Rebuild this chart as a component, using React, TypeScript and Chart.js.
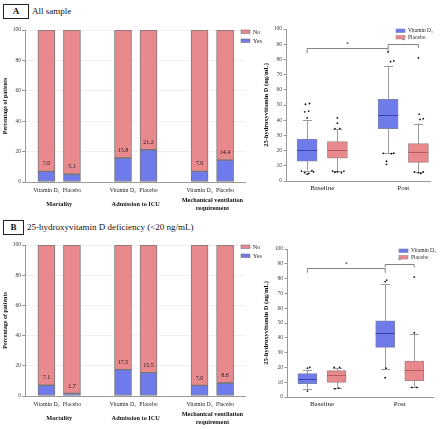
import React, { useEffect, useRef } from "react";
import { Chart, registerables } from "chart.js";
Chart.register(...registerables);

const FONT = "'Liberation Serif', 'Times New Roman', serif";
const RED = "#E8898D";
const BLUE = "#6F7BEA";

// ---------- bar chart data ----------
const barTickLabels = ["Vitamin D₃", "Placebo", "Vitamin D₃", "Placebo", "Vitamin D₃", "Placebo"];
const barPositions = [0, 1, 3, 4, 6, 7];
const groupLabels: (string | string[])[] = ["Mortality", "Admission to ICU", ["Mechanical ventilation", "requirement"]];
const groupPositions = [0.5, 3.5, 6.5];
const yesA = [7.0, 5.1, 15.8, 21.2, 7.0, 14.4];
const noA = [93.0, 94.9, 84.2, 78.8, 93.0, 85.6];
const yesB = [7.1, 1.7, 17.5, 15.5, 7.0, 8.6];
const noB = [92.9, 98.3, 82.5, 84.5, 93.0, 91.4];
const yTicksPct = [0, 20, 40, 60, 80, 100];

// ---------- box plot data ----------
const boxCategories = ["Baseline", "Post"];
const boxSeries = ["Vitamin D₃", "Placebo"];
// [lower whisker, Q1, median, Q3, upper whisker] for Baseline, Post
const boxA_vit = [[6.8, 13, 20.4, 27.5, 40], [18.2, 34.5, 43.3, 53.8, 75.8]];
const boxA_pla = [[6.6, 15, 20.7, 26, 34.3], [6.2, 12.3, 19.3, 24.6, 37.8]];
const boxB_vit = [[5.6, 9, 12.4, 15.8, 18.3], [19.2, 33.5, 43, 51.5, 76.3]];
const boxB_pla = [[6.1, 9.9, 14.7, 17.8, 19.6], [6.5, 10.8, 18.2, 24.3, 42.6]];
// outliers: [value, small horizontal jitter]
const outA_vit = [
  [[6.5, -0.07], [6.8, 0.06], [5.5, -0.03], [5, 0.02], [4.5, 0], [6, 0.08], [41.5, 0], [45.5, -0.03], [46, 0.02], [50.5, -0.02], [51, 0.03]],
  [[18.2, -0.06], [18, 0.04], [18.3, 0.07], [13, -0.02], [11, -0.02], [78.5, 0.03], [79, 0.07], [85, 0]],
];
const outA_pla = [
  [[6.5, -0.06], [6, 0], [5.5, 0.05], [6.5, 0.08], [5.8, -0.03], [34.5, -0.03], [34.5, 0.03], [38, 0], [41.5, 0]],
  [[6, -0.05], [5.5, 0], [6, 0.06], [5, 0.03], [40.5, 0.02], [41, 0.06], [44, 0.01], [81, 0]],
];
const outB_vit = [
  [[19.5, 0], [20, 0.03], [4, 0]],
  [[78, 0], [79, 0.02], [19.5, 0.01], [13, 0]],
];
const outB_pla = [
  [[20, -0.03], [20, 0.04], [5.5, -0.02], [6, 0.03]],
  [[43.4, 0], [81, 0], [6.5, -0.03], [6.5, 0.03]],
];
// brackets: [fromCategory, fromSeries, toCategory, toSeries, level, drop]
const bracketsA = [[0, 0, 1, 0, 87.3, 3.3], [1, 0, 1, 1, 90, 2.5]];
const bracketsB = [[0, 0, 1, 0, 87.4, 3.4], [1, 0, 1, 1, 89.6, 2.0]];
const yTicksBox = [0, 10, 20, 30, 40, 50, 60, 70, 80, 90, 100];

// ---------- plugins ----------
const barExtras = {
  id: "barExtras",
  afterDatasetsDraw(chart: any) {
    const { ctx, chartArea } = chart;
    const meta = chart.getDatasetMeta(0);
    ctx.save();
    ctx.font = `6px ${FONT}`;
    ctx.fillStyle = "#222";
    ctx.textAlign = "center";
    ctx.textBaseline = "middle";
    meta.data.forEach((el: any, i: number) => {
      const v = chart.data.datasets[0].data[i].y;
      ctx.fillText(v.toFixed(1), el.x, el.y - 7.5);
    });
    // legend No / Yes
    const items = [chart.data.datasets[1], chart.data.datasets[0]];
    items.forEach((ds: any, i: number) => {
      const y0 = chartArea.top + i * 9;
      ctx.fillStyle = ds.backgroundColor;
      ctx.fillRect(chartArea.right - 4, y0, 9, 3.5);
      ctx.strokeStyle = "#777";
      ctx.lineWidth = 0.6;
      ctx.strokeRect(chartArea.right - 4, y0, 9, 3.5);
      ctx.fillStyle = "#222";
      ctx.textAlign = "left";
      ctx.font = `6px ${FONT}`;
      ctx.fillText(ds.label, chartArea.right + 8, y0 + 2);
    });
    ctx.restore();
  },
};

const boxExtras = {
  id: "boxExtras",
  beforeDatasetsDraw(chart: any, _a: any, opts: any) {
    const { ctx, scales } = chart;
    const y = scales.y;
    ctx.save();
    ctx.strokeStyle = "#9a9a9a";
    ctx.lineWidth = 1;
    opts.stats.forEach((series: number[][], s: number) => {
      const meta = chart.getDatasetMeta(s);
      series.forEach((st: number[], g: number) => {
        const x = Math.round(meta.data[g].x) + 0.5;
        const pLo = y.getPixelForValue(st[0]);
        const pHi = y.getPixelForValue(st[4]);
        ctx.beginPath();
        ctx.moveTo(x, pLo);
        ctx.lineTo(x, pHi);
        ctx.moveTo(x - 4.5, Math.round(pLo) + 0.5);
        ctx.lineTo(x + 4.5, Math.round(pLo) + 0.5);
        ctx.moveTo(x - 4.5, Math.round(pHi) + 0.5);
        ctx.lineTo(x + 4.5, Math.round(pHi) + 0.5);
        ctx.stroke();
      });
    });
    ctx.restore();
  },
  afterDatasetsDraw(chart: any, _a: any, opts: any) {
    const { ctx, scales, chartArea } = chart;
    const y = scales.y;
    ctx.save();
    // medians
    opts.stats.forEach((series: number[][], s: number) => {
      const meta = chart.getDatasetMeta(s);
      ctx.strokeStyle = opts.medianColors[s];
      ctx.lineWidth = 1;
      series.forEach((st: number[], g: number) => {
        const el = meta.data[g];
        const half = el.width / 2;
        const py = Math.round(y.getPixelForValue(st[2])) + 0.5;
        ctx.beginPath();
        ctx.moveTo(el.x - half, py);
        ctx.lineTo(el.x + half, py);
        ctx.stroke();
      });
    });
    // brackets
    ctx.strokeStyle = "#666";
    ctx.lineWidth = 0.8;
    ctx.fillStyle = "#222";
    ctx.font = `6px ${FONT}`;
    ctx.textAlign = "center";
    ctx.textBaseline = "middle";
    opts.brackets.forEach((b: number[]) => {
      const x1 = chart.getDatasetMeta(b[1]).data[b[0]].x;
      const x2 = chart.getDatasetMeta(b[3]).data[b[2]].x;
      const py = Math.round(y.getPixelForValue(b[4])) + 0.5;
      const pd = y.getPixelForValue(b[4] - b[5]);
      ctx.beginPath();
      ctx.moveTo(x1, pd);
      ctx.lineTo(x1, py);
      ctx.lineTo(x2, py);
      ctx.lineTo(x2, pd);
      ctx.stroke();
      ctx.fillText("*", (x1 + x2) / 2, py - 4);
    });
    // legend
    const lx = chartArea.right - 34;
    boxSeries.forEach((name, i) => {
      const y0 = chartArea.top + i * 6.5;
      const ds = chart.data.datasets[i];
      ctx.fillStyle = ds.backgroundColor;
      ctx.fillRect(lx, y0, 9, 3.5);
      ctx.strokeStyle = ds.borderColor;
      ctx.lineWidth = 0.6;
      ctx.strokeRect(lx, y0, 9, 3.5);
      ctx.fillStyle = "#222";
      ctx.textAlign = "left";
      ctx.font = `5.5px ${FONT}`;
      ctx.fillText(name, lx + 12, y0 + 2);
    });
    ctx.restore();
  },
};

function makeBarConfig(yes: number[], no: number[]) {
  const tickFont = { family: FONT, size: 5.5 };
  return {
    type: "bar",
    data: {
      datasets: [
        {
          label: "Yes",
          data: barPositions.map((x, i) => ({ x, y: yes[i] })),
          backgroundColor: BLUE,
          borderColor: "#777",
          borderWidth: 1,
          borderSkipped: false,
          barThickness: 17,
        },
        {
          label: "No",
          data: barPositions.map((x, i) => ({ x, y: no[i] })),
          backgroundColor: RED,
          borderColor: "#777",
          borderWidth: 1,
          borderSkipped: false,
          barThickness: 17,
        },
      ],
    },
    options: {
      animation: false,
      responsive: false,
      maintainAspectRatio: false,
      events: [],
      layout: { padding: { top: 30, right: 20, left: 0, bottom: 0 } },
      plugins: { legend: { display: false }, tooltip: { enabled: false } },
      scales: {
        x: {
          type: "linear",
          stacked: true,
          offset: false,
          min: -0.84,
          max: 7.78,
          weight: 0,
          grid: { display: false, drawTicks: false, offset: false },
          border: { color: "#999", width: 1 },
          afterBuildTicks: (s: any) => { s.ticks = barPositions.map((v) => ({ value: v })); },
          afterFit: (s: any) => { s.height = 14; },
          ticks: {
            autoSkip: false,
            maxRotation: 0,
            padding: 5,
            color: "#222",
            font: { family: FONT, size: 5.8 },
            callback: (v: number) => barTickLabels[barPositions.indexOf(v)],
          },
        },
        xg: {
          type: "linear",
          position: "bottom",
          offset: false,
          min: -0.84,
          max: 7.78,
          weight: 1,
          grid: { display: false, drawTicks: false, offset: false },
          border: { display: false },
          afterBuildTicks: (s: any) => { s.ticks = groupPositions.map((v) => ({ value: v })); },
          afterFit: (s: any) => { s.height = 19; },
          ticks: {
            autoSkip: false,
            maxRotation: 0,
            padding: 4,
            crossAlign: "center",
            color: "#111",
            font: { family: FONT, size: 6.3, weight: "bold", lineHeight: 1.4 },
            callback: (v: number) => groupLabels[groupPositions.indexOf(v)],
          },
        },
        y: {
          stacked: true,
          min: 0,
          max: 100,
          afterBuildTicks: (s: any) => { s.ticks = yTicksPct.map((v) => ({ value: v })); },
          afterFit: (s: any) => { s.width = 25; },
          grid: { color: "rgba(0,0,0,0.06)", tickLength: 3, tickColor: "#999" },
          border: { color: "#999", width: 1 },
          ticks: { color: "#444", font: tickFont, padding: 1 },
          title: {
            display: true,
            text: "Percentage of patients",
            color: "#111",
            font: { family: FONT, size: 6, weight: "bold" },
            padding: { top: 2, bottom: 0 },
          },
        },
      },
    },
    plugins: [barExtras],
  };
}

function makeBoxConfig(
  vit: number[][], pla: number[][], outVit: number[][][], outPla: number[][][],
  brackets: number[][], xmin: number, xmax: number, pad: any, thickness: number
) {
  const off = 0.187;
  const centers = [1, 2];
  const scatterData: any[] = [];
  [outVit, outPla].forEach((series, s) => {
    series.forEach((pts, g) => {
      pts.forEach(([v, dx]) => {
        scatterData.push({ x: centers[g] + (s === 0 ? -off : off) + dx, y: v });
      });
    });
  });
  return {
    type: "bar",
    data: {
      datasets: [
        {
          type: "bar",
          label: boxSeries[0],
          data: vit.map((st, g) => ({ x: centers[g] - off, y: [st[1], st[3]] })),
          backgroundColor: BLUE,
          borderColor: "#7d82b0",
          borderWidth: 1,
          borderSkipped: false,
          barThickness: thickness,
        },
        {
          type: "bar",
          label: boxSeries[1],
          data: pla.map((st, g) => ({ x: centers[g] + off, y: [st[1], st[3]] })),
          backgroundColor: RED,
          borderColor: "#a88384",
          borderWidth: 1,
          borderSkipped: false,
          barThickness: thickness,
        },
        {
          type: "scatter",
          label: "outliers",
          data: scatterData,
          pointRadius: 0.9,
          pointBackgroundColor: "#111",
          pointBorderWidth: 0,
        },
      ],
    },
    options: {
      animation: false,
      responsive: false,
      maintainAspectRatio: false,
      events: [],
      layout: { padding: { top: pad.top, right: pad.right, left: pad.left, bottom: pad.bottom } },
      plugins: {
        legend: { display: false },
        tooltip: { enabled: false },
        boxExtras: { stats: [vit, pla], medianColors: ["#3a45a8", "#b55c62"], brackets },
      },
      scales: {
        x: {
          type: "linear",
          stacked: true,
          offset: false,
          min: xmin,
          max: xmax,
          grid: { display: false, drawTicks: false, offset: false },
          border: { color: "#999", width: 1 },
          afterBuildTicks: (s: any) => { s.ticks = centers.map((v) => ({ value: v })); },
          afterFit: (s: any) => { s.height = 14; },
          ticks: {
            autoSkip: false,
            maxRotation: 0,
            padding: 3,
            color: "#222",
            font: { family: FONT, size: 7 },
            callback: (v: number) => boxCategories[centers.indexOf(v)],
          },
        },
        y: {
          min: 0,
          max: 100,
          afterBuildTicks: (s: any) => { s.ticks = yTicksBox.map((v) => ({ value: v })); },
          afterFit: (s: any) => { s.width = pad.axisW; },
          grid: { drawOnChartArea: false, tickLength: 2.5, color: "#999" },
          border: { color: "#999", width: 1 },
          ticks: { color: "#444", font: { family: FONT, size: 5.5 }, padding: 1.5 },
          title: {
            display: true,
            text: "25-hydroxyvitamin D (ng/mL)",
            color: "#111",
            font: { family: FONT, size: 6.5, weight: "bold" },
            padding: { top: 4, bottom: 0 },
          },
        },
      },
    },
    plugins: [boxExtras],
  };
}

function ChartCanvas({ config, left, top, width, height }: any) {
  const ref = useRef<HTMLCanvasElement | null>(null);
  useEffect(() => {
    if (!ref.current) return;
    const chart = new Chart(ref.current, config);
    return () => chart.destroy();
  }, []);
  return (
    <canvas
      ref={ref}
      width={width}
      height={height}
      style={{ position: "absolute", left, top, width, height }}
    />
  );
}

function Header({ letter, text, top, boxW }: any) {
  return (
    <div style={{ position: "absolute", left: 3, top, height: 16, display: "flex", alignItems: "center", fontFamily: FONT }}>
      <div
        style={{
          width: boxW,
          height: 15,
          border: "1px solid #222",
          boxSizing: "border-box",
          display: "flex",
          alignItems: "center",
          justifyContent: "center",
          fontWeight: "bold",
          fontSize: 9,
          color: "#111",
        }}
      >
        {letter}
      </div>
      <div style={{ marginLeft: 3, fontSize: 9, color: "#111", whiteSpace: "nowrap" }}>{text}</div>
    </div>
  );
}

export default function App() {
  useEffect(() => {
    document.body.style.margin = "0";
    document.body.style.background = "#fff";
  }, []);
  const barA = makeBarConfig(yesA, noA);
  const barB = makeBarConfig(yesB, noB);
  const boxA = makeBoxConfig(boxA_vit, boxA_pla, outA_vit, outA_pla, bracketsA, 0.5525, 2.33,
    { top: 29, right: 10, left: 0, bottom: 20, axisW: 28 }, 20);
  const boxB = makeBoxConfig(boxB_vit, boxB_pla, outB_vit, outB_pla, bracketsB, 0.55, 2.428,
    { top: 34, right: 7, left: 0, bottom: 18, axisW: 29 }, 19);
  return (
    <div style={{ position: "absolute", left: 0, top: 0, width: 440, height: 429, background: "#fff", overflow: "hidden" }}>
      <Header letter="A" text="All sample" top={3} boxW={26} />
      <Header letter="B" text="25-hydroxyvitamin D deficiency (<20 ng/mL)" top={219} boxW={21} />
      <ChartCanvas config={barA} left={0} top={0} width={265} height={215} />
      <ChartCanvas config={barB} left={0} top={215} width={265} height={214} />
      <ChartCanvas config={boxA} left={258} top={0} width={182} height={215} />
      <ChartCanvas config={boxB} left={258} top={215} width={182} height={214} />
    </div>
  );
}
